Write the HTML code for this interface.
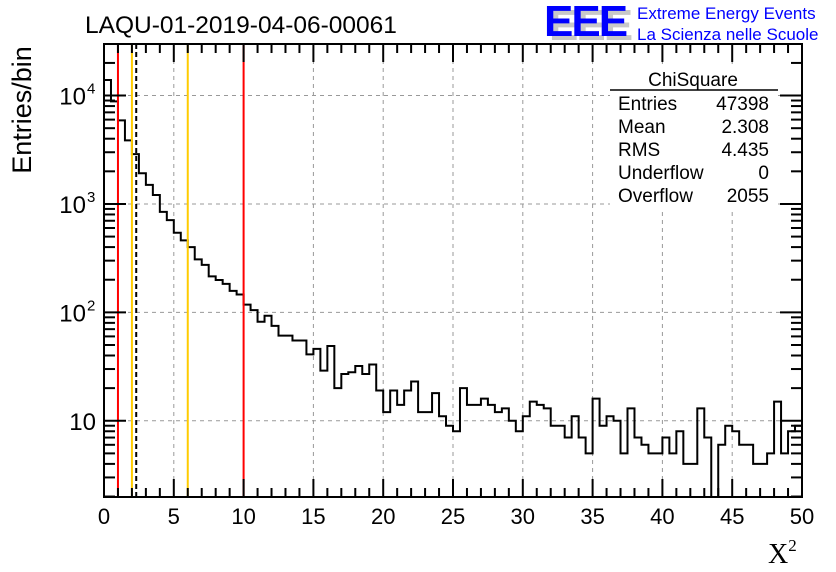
<!DOCTYPE html>
<html><head><meta charset="utf-8"><style>
body{margin:0;background:#fff;}
svg{display:block;font-family:"Liberation Sans",sans-serif;}
</style></head><body>
<svg id="c" width="836" height="572" xmlns="http://www.w3.org/2000/svg">
<rect width="836" height="572" fill="#fff"/>
<g id="grid"></g>
<g id="marks"></g>
<g id="axes"></g>
<text x="85" y="33" font-size="24.5">LAQU-01-2019-04-06-00061</text>
<g>
<text x="549" y="40" font-size="44" font-weight="bold" fill="#c8c8c8" letter-spacing="-2">EEE</text>
<text x="544" y="36" font-size="44" font-weight="bold" fill="#0000ff" letter-spacing="-2">EEE</text>
<text x="637" y="19" font-size="17" fill="#0000ff">Extreme Energy Events</text>
<text x="637" y="40" font-size="17" fill="#0000ff">La Scienza nelle Scuole</text>
</g>
<g font-size="19">
<rect x="610" y="66" width="168" height="142" fill="#fff"/>
<text x="693" y="86" text-anchor="middle">ChiSquare</text>
<line x1="610" y1="90" x2="778" y2="90" stroke="#000" stroke-width="1.5"/>
<text x="618" y="110">Entries</text><text x="769" y="110" text-anchor="end">47398</text>
<text x="618" y="133">Mean</text><text x="769" y="133" text-anchor="end">2.308</text>
<text x="618" y="156">RMS</text><text x="769" y="156" text-anchor="end">4.435</text>
<text x="618" y="179">Underflow</text><text x="769" y="179" text-anchor="end">0</text>
<text x="618" y="202">Overflow</text><text x="769" y="202" text-anchor="end">2055</text>
</g>
<text x="22" y="110" font-size="27" transform="rotate(-90 22 110)" text-anchor="middle" dy="9">Entries/bin</text>
<text x="768" y="563" font-size="28" font-family="Liberation Serif,serif">X<tspan font-size="17" dy="-12">2</tspan></text>
</svg>
<script>
const counts=[13900,8850,5900,3860,2880,1920,1500,1210,845,710,543,462,400,308,274,215,199,183,158,146,118,105,82,93,75,61,61,55,55,41,46,29,49,20,27,28,32,27,33,19,12,19,14,19,23,12,12,18,11,9,8,20,14,14,16,14,12,13,10,8,11,15,14,13,9,9,7,11,7,5,16,9,11,10,5,13,7,6,5,5,7,5,8,4,4,13,7,0,6,9,8,6,6,4,4,5,15,5,8,9];
const binWidth=0.5;
const xTicks=[0,5,10,15,20,25,30,35,40,45,50];
const yDecades=[10,100,1000,10000];
const yDecadeExp=["","2","3","4"];
const refLines=[{v:1,c:"#ff0000",d:""},{v:2,c:"#ffcc00",d:""},{v:2.308,c:"#000",d:"5,3"},{v:6,c:"#ffcc00",d:""},{v:10,c:"#ff0000",d:""}];
const L=104,R=802,T=44,B=497;
const ymin=1.98,ymax=29900;
const sx=v=>L+(v/50)*(R-L);
const sy=v=>{if(v<=0)return B;const y=B-(Math.log10(v)-Math.log10(ymin))/(Math.log10(ymax)-Math.log10(ymin))*(B-T);return Math.max(T,Math.min(B,y));};
const NS="http://www.w3.org/2000/svg";
function mk(t,a,p){const e=document.createElementNS(NS,t);for(const k in a)e.setAttribute(k,a[k]);p.appendChild(e);return e;}
const grid=document.getElementById('grid'),marks=document.getElementById('marks'),axes=document.getElementById('axes');
xTicks.forEach(t=>{if(t>0&&t<50){const g=mk('line',{x1:sx(t),x2:sx(t),y1:T,y2:B,stroke:'#999','stroke-dasharray':'4,4','stroke-width':1},grid);

}});
yDecades.forEach(d=>{const g=mk('line',{x1:L,x2:R,y1:sy(d),y2:sy(d),stroke:'#999','stroke-dasharray':'4,4','stroke-width':1},grid);

});
let p="M"+sx(0)+","+B;
counts.forEach((c,i)=>{const y=sy(c);p+=" L"+sx(i*binWidth)+","+y+" L"+sx((i+1)*binWidth)+","+y;});
const h=mk('path',{d:p,fill:'none',stroke:'#000','stroke-width':2},marks);


refLines.forEach(r=>{const l=mk('line',{x1:sx(r.v),x2:sx(r.v),y1:T,y2:B,stroke:r.c,'stroke-width':2,'stroke-dasharray':r.d},marks);

});
const f=mk('rect',{x:L,y:T,width:R-L,height:B-T,fill:'none',stroke:'#000','stroke-width':2},axes);


for(let t=0;t<=50;t++){const len=t%5===0?18:9;
mk('line',{x1:sx(t),x2:sx(t),y1:B,y2:B-len,stroke:'#000','stroke-width':2},axes);
mk('line',{x1:sx(t),x2:sx(t),y1:T,y2:T+len,stroke:'#000','stroke-width':2},axes);}
xTicks.forEach(t=>{const tx=mk('text',{x:sx(t),y:524,'font-size':22,'text-anchor':'middle'},axes);tx.textContent=t;

});
for(let e=0;e<=4;e++){for(let m=1;m<=9;m++){const v=m*Math.pow(10,e);if(v<ymin||v>ymax)continue;const len=m===1?22:11;const y=sy(v);
mk('line',{x1:L,x2:L+len,y1:y,y2:y,stroke:'#000','stroke-width':2},axes);
mk('line',{x1:R,x2:R-len,y1:y,y2:y,stroke:'#000','stroke-width':2},axes);}}
yDecades.forEach((d,i)=>{const y=sy(d);const ex=yDecadeExp[i];
const tx=mk('text',{x:ex?86:96,y:y+9,'font-size':24,'text-anchor':'end'},axes);tx.textContent="10";


if(ex){const s=mk('text',{x:87,y:y-2,'font-size':15},axes);s.textContent=ex;

}});
</script>
</body></html>
